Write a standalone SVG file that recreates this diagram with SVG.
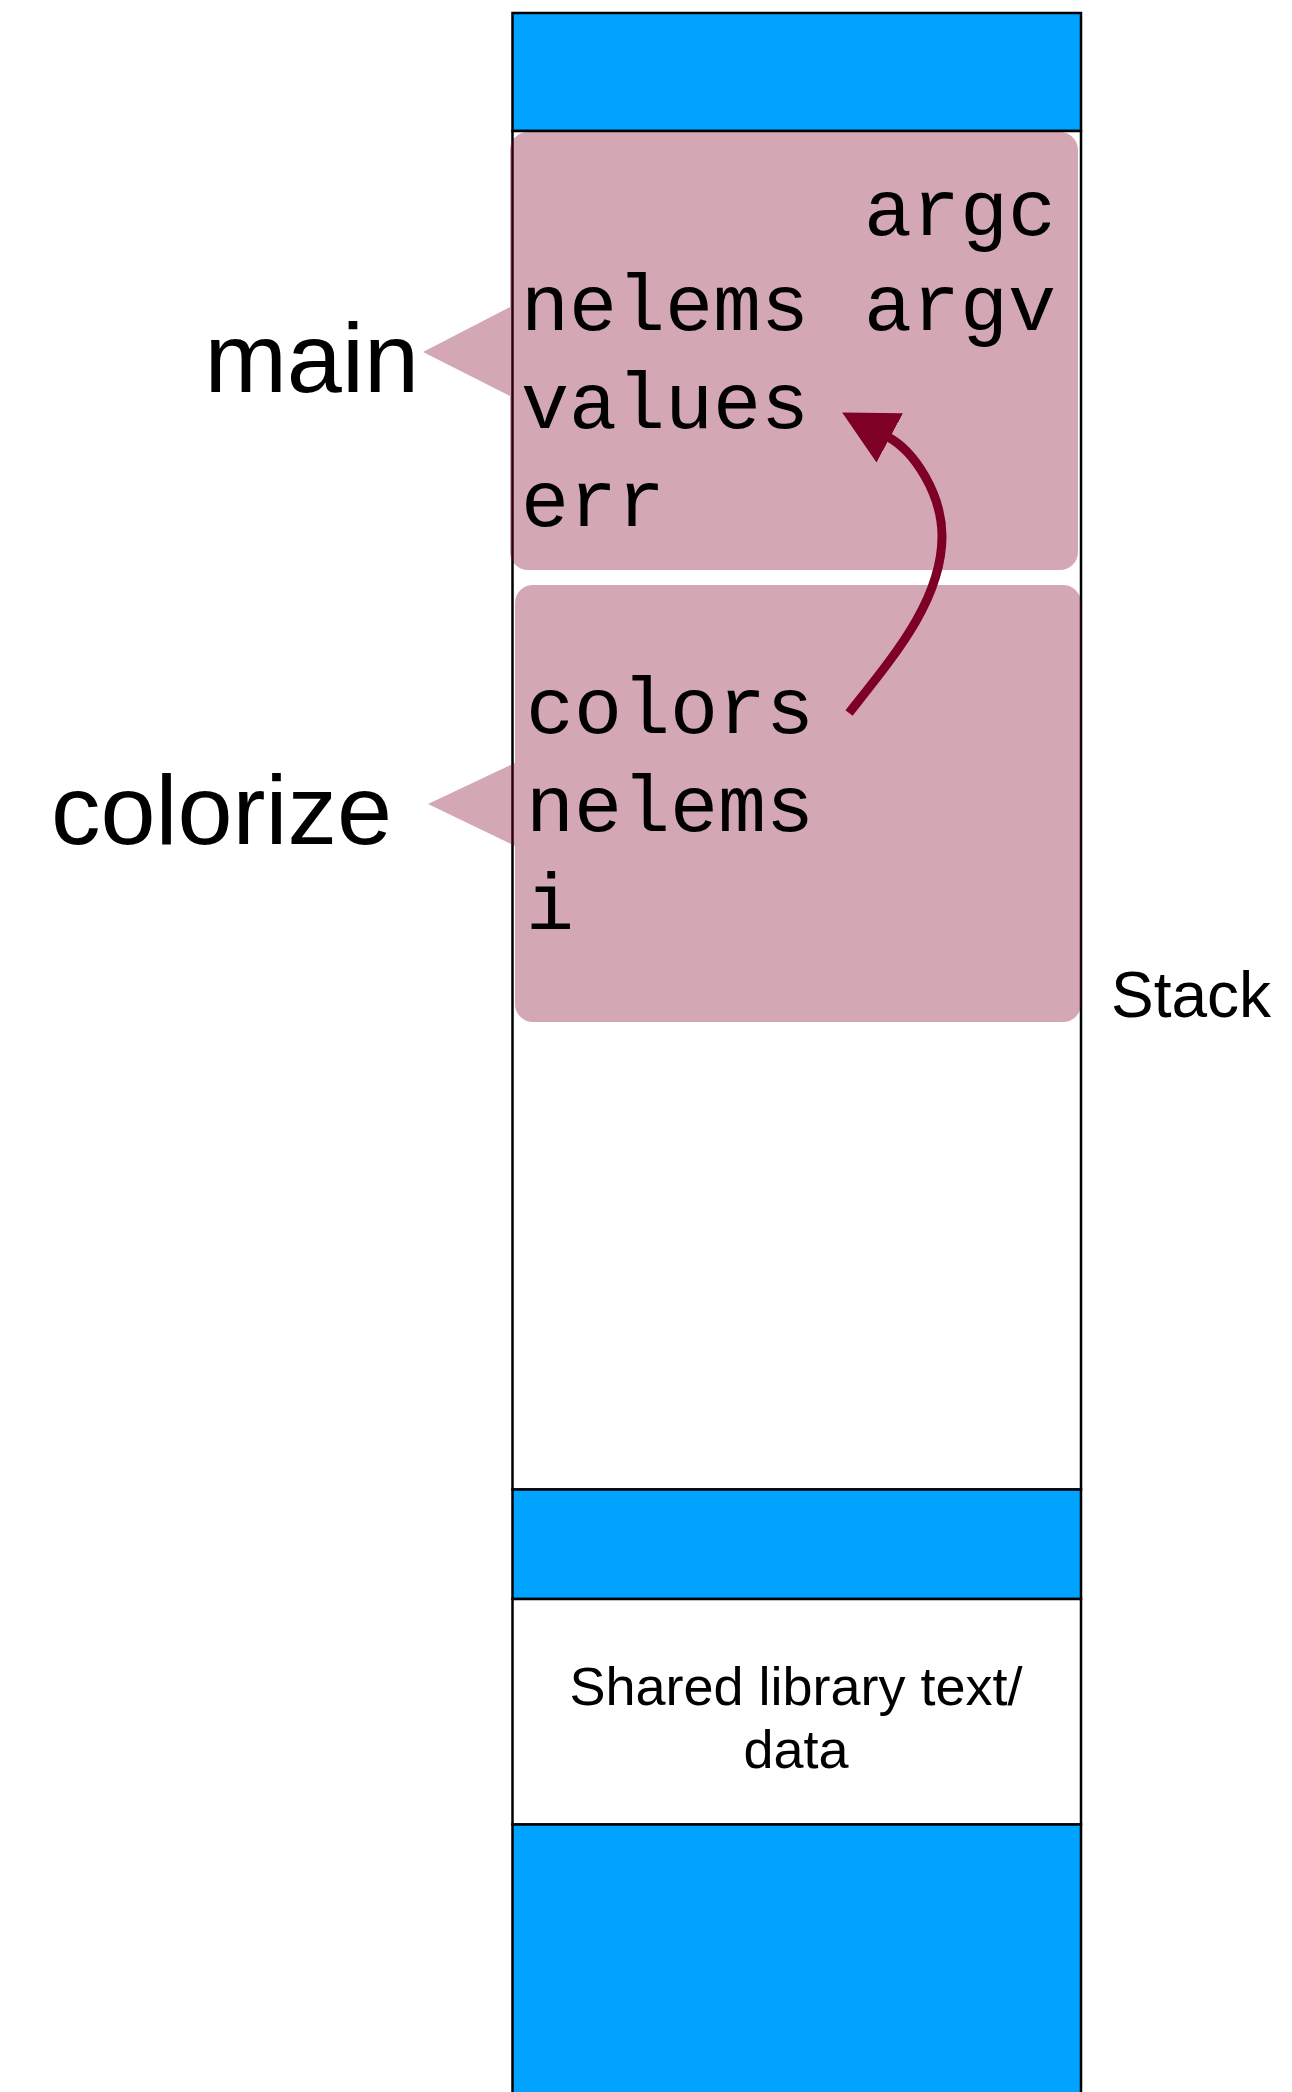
<svg xmlns="http://www.w3.org/2000/svg" width="1292" height="2092" viewBox="0 0 1292 2092">
  <defs>
    <style>
      .seg { stroke: #000; stroke-width: 2.5; }
      .blue { fill: #00A3FF; }
      .white { fill: #FFFFFF; }
      .frame { fill: #7F0025; fill-opacity: 0.345; stroke: none; }
      .mono { font-family: "Liberation Mono", "Courier New", monospace; font-size: 80px; fill: #000; }
      .label { font-family: "Liberation Sans", Arial, Helvetica, sans-serif; fill: #000; }
      .conn { fill: none; stroke: #7F0025; stroke-width: 9; }
    </style>
    <marker id="arrowhead" markerUnits="userSpaceOnUse" markerWidth="56" markerHeight="58" refX="2" refY="28" orient="auto" viewBox="0 0 56 56">
      <path d="M0,0 L54,28 L0,56 Z" fill="#7F0025"/>
    </marker>
  </defs>
  <rect x="0" y="0" width="1292" height="2092" fill="#FFFFFF"/>

  <g id="memory-column">
    <rect class="blue seg" x="512.5" y="13" width="568.5" height="118"/>
    <rect class="white seg" x="512.5" y="131" width="568.5" height="1358.5"/>
    <rect class="blue seg" x="512.5" y="1489.5" width="568.5" height="109.5"/>
    <rect class="white seg" x="512.5" y="1599" width="568.5" height="225.5"/>
    <rect class="blue seg" x="512.5" y="1824.5" width="568.5" height="280"/>
  </g>

  <g id="stack-label">
    <text class="label" x="1111" y="1017" font-size="64">Stack</text>
  </g>

  <g id="shared-library">
    <text class="label" x="796" y="1705" font-size="54" text-anchor="middle">Shared library text/</text>
    <text class="label" x="796" y="1768" font-size="54" text-anchor="middle">data</text>
  </g>

  <g id="frame-main">
    <path class="frame" d="M528,132 H1060 A18,18 0 0 1 1078,150 V552 A18,18 0 0 1 1060,570 H528 A18,18 0 0 1 510,552 V396 L423,352 L510,307 V150 A18,18 0 0 1 528,132 Z"/>
    <text class="label" x="419" y="391.5" font-size="99" text-anchor="end">main</text>
    <text class="mono" x="864" y="235">argc</text>
    <text class="mono" x="521" y="330">nelems</text>
    <text class="mono" x="864" y="330">argv</text>
    <text class="mono" x="521" y="428">values</text>
    <text class="mono" x="521" y="526">err</text>
  </g>

  <g id="frame-colorize">
    <path class="frame" d="M533,585 H1063 A18,18 0 0 1 1081,603 V1004 A18,18 0 0 1 1063,1022 H533 A18,18 0 0 1 515,1004 V846 L428,804 L515,763 V603 A18,18 0 0 1 533,585 Z"/>
    <text class="label" x="51" y="844" font-size="99">colorize</text>
    <text class="mono" x="526" y="733">colors</text>
    <text class="mono" x="526" y="831">nelems</text>
    <text class="mono" x="526" y="929">i</text>
  </g>

  <g id="connectors">
    <path class="conn" d="M849,713 C894,656 942,600 942,536 C942,495 915,451.5 888,437" marker-end="url(#arrowhead)"/>
  </g>
</svg>
